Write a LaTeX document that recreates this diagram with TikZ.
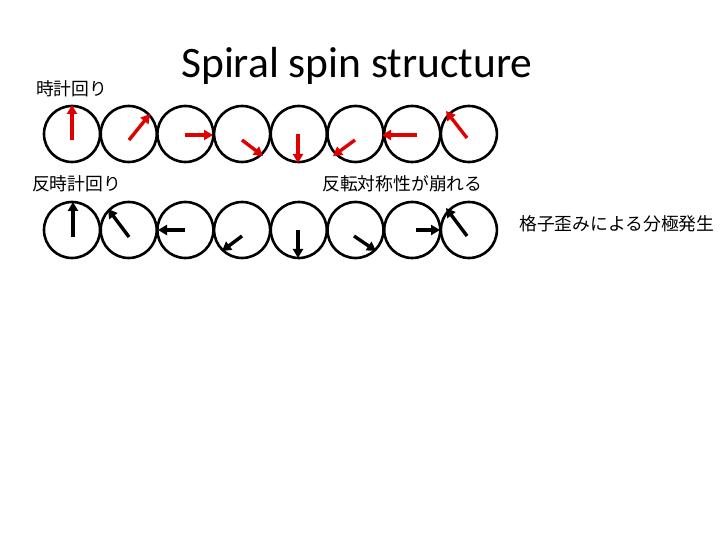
\documentclass[tikz,border=0pt]{standalone}
\usepackage{fontspec}
\setmainfont{Carlito}
\newfontfamily\jpfont{Noto Sans CJK JP}
\usetikzlibrary{arrows.meta}
\tikzset{
  site/.style={circle,draw=black,line width=2.6bp,minimum size=56bp,inner sep=0pt},
  spinR/.style={draw=red!88!black,line width=3.4bp,-{Triangle[length=9bp,width=10bp]}},
  spinK/.style={draw=black,line width=3.4bp,-{Triangle[length=9bp,width=10bp]}},
  jp/.style={font=\jpfont\fontsize{17.8bp}{20bp}\selectfont,inner sep=0pt}
}
\begin{document}
\begin{tikzpicture}[x=1bp,y=-1bp]
\useasboundingbox (0,0) rectangle (720,540);
\node[anchor=base west,inner sep=0pt,font=\fontsize{43.5bp}{50bp}\selectfont] (title) at (181,78) {Spiral spin structure};
\node[jp,anchor=west] (cw) at (36,89) {時計回り};
\node[jp,anchor=west] (ccw) at (32,184) {反時計回り};
\node[jp,anchor=west] (inv) at (322,184) {反転対称性が崩れる};
\node[jp,anchor=west] (pol) at (519,224) {格子歪みによる分極発生};
\foreach \i in {1,...,8}{
  \node[site] (c\i) at ({72+56.7*(\i-1)},134) {};
  \node[site] (d\i) at ({72+56.7*(\i-1)},230) {};
}
% top row (red)
\draw[spinR] (72,140) -- (72,105);
\draw[spinR] (129,140) -- (150,114);
\draw[spinR] (185,135) -- (213,135);
\draw[spinR] (242,140) -- (263,156);
\draw[spinR] (298,134) -- (298,163);
\draw[spinR] (355,140) -- (333,156);
\draw[spinR] (417,135) -- (382,135);
\draw[spinR] (467,138) -- (446,111);
% bottom row (black)
\draw[spinK] (73,237) -- (73,202);
\draw[spinK] (129,237) -- (108,209);
\draw[spinK] (185,230) -- (158,230);
\draw[spinK] (242,236) -- (222,251);
\draw[spinK] (298,230) -- (298,258);
\draw[spinK] (354,236) -- (376,251);
\draw[spinK] (416,230) -- (440,230);
\draw[spinK] (467,236) -- (446,208);
\end{tikzpicture}
\end{document}
